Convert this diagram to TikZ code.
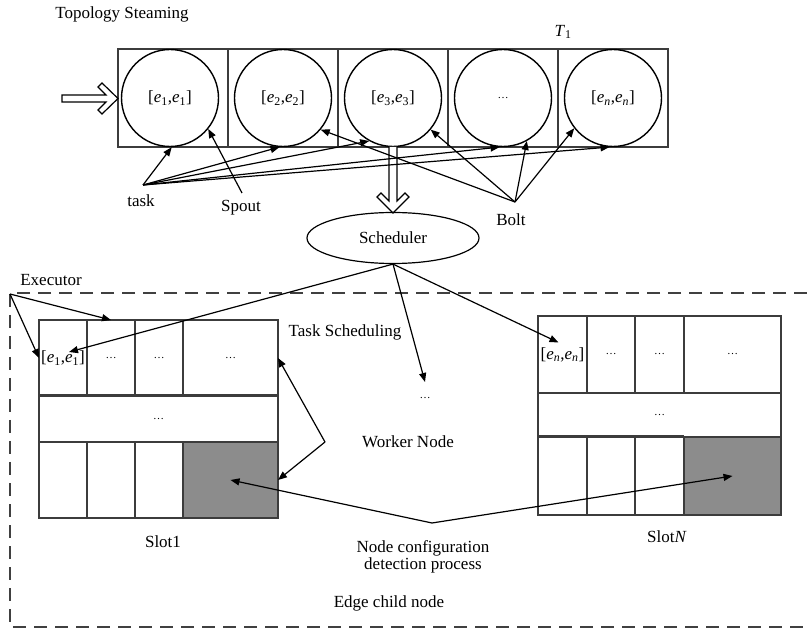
\documentclass[tikz,border=0pt]{standalone}
\usepackage{fontspec}
\setmainfont{Liberation Serif}
\usetikzlibrary{arrows.meta,shapes.geometric}
\definecolor{boxline}{RGB}{60,60,60}
\definecolor{greyfill}{RGB}{140,140,140}
\newcommand\dts{{\fontsize{11}{12}\selectfont\ldots}}
\newcommand\ee[1]{[\textit{e}\textsubscript{#1},\textit{e}\textsubscript{#1}]}
\begin{document}
\begin{tikzpicture}[x=1pt,y=-1pt,
  font=\fontsize{17}{19}\selectfont,
  lbl/.style={inner sep=0pt},
  arr/.style={-{Triangle[length=9pt,width=7pt]}, line width=1.2pt},
  cell/.style={draw=boxline, line width=1.5pt, rectangle, inner sep=0pt, outer sep=0pt},
  greycell/.style={cell, fill=greyfill},
  circ/.style={draw=black, line width=1.4pt, circle, minimum size=97pt, inner sep=0pt},
  hollow/.style={draw=black, line width=1.2pt, fill=white, line join=miter},
  dashbox/.style={draw=black!75, line width=1.3pt, dash pattern=on 13pt off 8pt}
]
\useasboundingbox (0,0) rectangle (807,631);

% ---------------- top strip ----------------
\node[lbl] (title) at (122,14) {Topology Steaming};
\node[lbl] (T1) at (563,32) {\textit{T}\textsubscript{1}};

\foreach \i/\cx in {1/173,2/283,3/393,4/503,5/613}{
  \node[cell, minimum width=110pt, minimum height=98pt] (t\i) at (\cx,98) {};
}
\node[circ] (c1) at (170,98) {\ee{1}};
\node[circ] (c2) at (283,98) {\ee{2}};
\node[circ] (c3) at (393,98) {\ee{3}};
\node[circ] (c4) at (503,98) {\dts};
\node[circ] (c5) at (613,98) {[\textit{e}\textsubscript{\textit{n}},\textit{e}\textsubscript{\textit{n}}]};

% input hollow arrow
\draw[hollow] (62,95) -- (106,95) -- (98,87) -- (102,83) -- (118,98.5) -- (102,114) -- (98,110) -- (106,102) -- (62,102) -- cycle;
% down hollow arrow to scheduler
\draw[hollow] (389,147) -- (389,201) -- (381,193) -- (377,197) -- (393,213) -- (409,197) -- (405,193) -- (397,201) -- (397,147);

% scheduler
\node[draw, ellipse, line width=1.2pt, minimum width=172pt, minimum height=51pt, inner sep=0pt] (sched) at (393,238) {Scheduler};

% labels task / spout / bolt
\node[lbl] (task) at (141,201) {task};
\node[lbl] (spout) at (241,208) {Spout};
\node[lbl] (bolt) at (511,220) {Bolt};
\coordinate (tk) at (143,185);
\coordinate (sp) at (242,193);
\coordinate (bt) at (515,202);

\draw[arr] (tk) -- (c1.272);
\draw[arr] (tk) -- (c2.266);
\draw[arr] (tk) -- (c3.241);
\draw[arr] (tk) -- (c4.266);
\draw[arr] (tk) -- (c5.266);
\draw[arr] (sp) -- (c1.321);
\draw[arr] (bt) -- (c2.320);
\draw[arr] (bt) -- (c3.320);
\draw[arr] (bt) -- (c4.299);
\draw[arr] (bt) -- (c5.218);

% ---------------- edge child node ----------------
\draw[dashbox] (807,293) -- (10,293) -- (10,627) -- (807,627);
\node[lbl] (execl) at (51,280) {Executor};

% Slot 1
\node[cell, minimum width=48pt, minimum height=76pt] (a11) at (63,358) {\ee{1}};
\node[cell, minimum width=48pt, minimum height=76pt] (a12) at (111,358) {\dts};
\node[cell, minimum width=48pt, minimum height=76pt] (a13) at (159,358) {\dts};
\node[cell, minimum width=95pt, minimum height=76pt] (a14) at (230.5,358) {\dts};
\node[cell, minimum width=239pt, minimum height=46pt] (a2) at (158.5,419) {\dts};
\node[cell, minimum width=48pt, minimum height=76pt] (a31) at (63,480) {};
\node[cell, minimum width=48pt, minimum height=76pt] (a32) at (111,480) {};
\node[cell, minimum width=48pt, minimum height=76pt] (a33) at (159,480) {};
\node[greycell, minimum width=95pt, minimum height=76pt] (a34) at (230.5,480) {};
\draw[boxline, line width=3pt] (a2.north west) -- (a2.north east);
\node[lbl] (slot1) at (163,542) {Slot1};

% Slot N
\node[cell, minimum width=49pt, minimum height=77pt] (b11) at (562.5,354.5) {[\textit{e}\textsubscript{\textit{n}},\textit{e}\textsubscript{\textit{n}}]};
\node[cell, minimum width=48pt, minimum height=77pt] (b12) at (611,354.5) {\dts};
\node[cell, minimum width=49pt, minimum height=77pt] (b13) at (659.5,354.5) {\dts};
\node[cell, minimum width=97pt, minimum height=77pt] (b14) at (732.5,354.5) {\dts};
\node[cell, minimum width=243pt, minimum height=44pt] (b2) at (659.5,415) {\dts};
\node[cell, minimum width=49pt, minimum height=78pt] (b31) at (562.5,476) {};
\node[cell, minimum width=48pt, minimum height=78pt] (b32) at (611,476) {};
\node[cell, minimum width=49pt, minimum height=78pt] (b33) at (659.5,476) {};
\node[greycell, minimum width=97pt, minimum height=78pt] (b34) at (732.5,476) {};
\draw[boxline, line width=3pt] (b31.north west) -- (b33.north east);
\node[lbl] (slotN) at (667,537) {Slot\textit{N}};

% middle labels
\node[lbl] (tsched) at (345,332) {Task Scheduling};
\node[lbl] (wdots) at (425,398) {\dts};
\coordinate (wtip) at (425,382);
\node[lbl] (worker) at (408,442) {Worker Node};
\node[lbl, align=center, font=\fontsize{17}{17}\selectfont] (ncfg) at (423,557) {Node configuration\\detection process};
\node[lbl] (edge) at (389,603) {Edge child node};

% executor arrows
\coordinate (ex) at (10,294);
\draw[arr] (ex) -- (a12.north);
\draw[arr] (ex) -- (a11.west);

% scheduler arrows
\draw[arr] (sched.south) -- ([xshift=6pt,yshift=6pt]a11.center);
\draw[arr] (sched.south) -- (wtip);
\draw[arr] (sched.south) -- ([xshift=-4pt,yshift=12pt]b11.center);

% worker double arrow
\coordinate (dv) at (325,442);
\draw[arr] (dv) -- (a14.east);
\draw[arr] (dv) -- (a34.east);

% node configuration detection arrows
\coordinate (nv) at (432,523);
\draw[arr] (nv) -- (a34.center);
\draw[arr] (nv) -- (b34.center);
\end{tikzpicture}
\end{document}
